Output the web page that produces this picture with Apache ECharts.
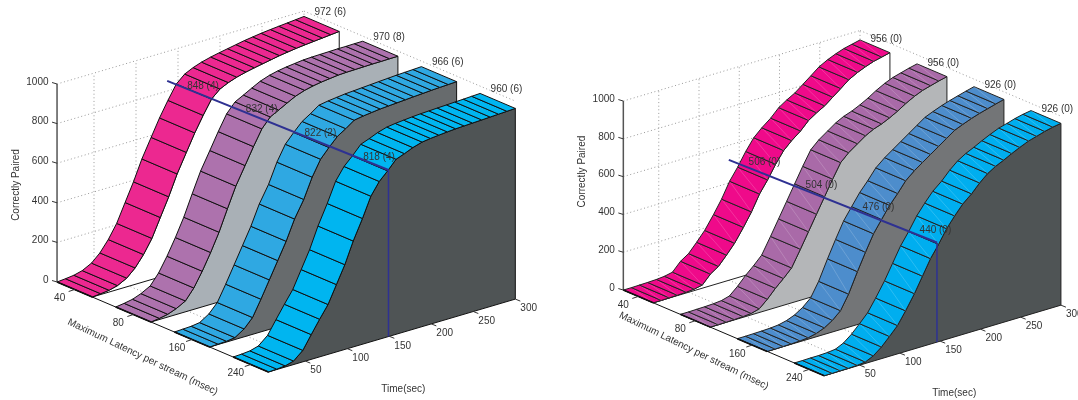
<!DOCTYPE html>
<html><head><meta charset="utf-8">
<style>html,body{margin:0;padding:0;background:#fff}#c{width:1078px;height:400px}</style>
<script src="https://cdn.jsdelivr.net/npm/echarts@6/dist/echarts.min.js"></script>
</head><body><div id="c"></div>
<script>
const timeSteps=[6,16,26,36,47,57,67,77,87,97,107,118,128,138,148,158,168,178,189,199,209,219,229,239,249,260,270,280,290,300];
const latencyLabels=['40','80','160','240'];
const countTicks=[0,200,400,600,800,1000];
const timeTicks=[50,100,150,200,250,300];

const leftLat40=[0,4,9,20,44,83,138,207,300,392,495,590,676,752,822,860,880,895,907,916,924,932,940,946,952,957,961,965,969,973];
const leftLat80=[0,6,14,30,55,108,180,262,352,458,560,650,733,810,858,880,903,925,941,951,958,963,968,970,971,972,973,973,974,974];
const leftLat160=[0,2,4,10,40,85,165,250,335,420,520,605,705,783,830,873,900,930,938,943,948,951,954,957,960,963,966,968,970,972];
const leftLat240=[0,2,6,18,58,125,190,252,340,428,535,635,735,797,838,884,900,918,932,938,942,946,949,951,953,955,957,959,961,963];
const leftEndLabels=['972 (6)','970 (8)','966 (6)','960 (6)'];
const leftMidLabels=['848 (4)','832 (4)','822 (2)','818 (4)'];

const rightLat40=[0,0,1,2,4,8,17,62,90,137,187,257,326,408,470,540,600,640,677,720,748,772,805,838,872,897,915,930,940,950];
const rightLat80=[0,0,1,2,4,8,20,58,103,142,185,270,350,430,510,590,665,705,738,768,790,805,825,848,875,900,918,930,942,952];
const rightLat160=[0,0,1,2,4,8,18,35,62,100,175,280,370,455,518,580,630,685,725,755,785,815,845,875,893,911,925,937,949,960];
const rightLat240=[0,0,1,1,3,8,28,62,105,150,215,292,372,452,515,585,640,690,730,775,812,838,858,880,900,920,932,945,955,962];
const rightEndLabels=['956 (0)','956 (0)','926 (0)','926 (0)'];
const rightMidLabels=['506 (0)','504 (0)','476 (0)','440 (0)'];

const FONT='10px "Liberation Sans", Arial, sans-serif', TXT='#333';
const panels=[
 {grid:{left:52,top:85.5,width:252,height:198},shear:.248,depthX:58.7,depthY:25,band:.6,
  values:[leftLat40,leftLat80,leftLat160,leftLat240],endLabels:leftEndLabels,midLabels:leftMidLabels,
  ribbon:['#ec2890','#ad72ad','#2fa8e2','#00b5f0'],wall:['#ffffff','#a9b0b6','#676b6d','#4f5455'],
  mark:{t:149,d0:-.17,z0:815,d1:3.6,z1:841,labelD:.17,labelDy:-3},endOff:[10.5,-4],
  edge:'#111',facet:null,
  latOff:[-20,30],latRot:25.5,countOff:[-41,2],timeOff:[14,53]},
 {grid:{left:618.5,top:102.5,width:241.5,height:189},shear:.24,depthX:57,depthY:24.3,band:.525,
  values:[rightLat40,rightLat80,rightLat160,rightLat240],endLabels:rightEndLabels,midLabels:rightMidLabels,
  ribbon:['#ef0a8a','#a96aa8','#4d8dcc','#00aeef'],wall:['#ffffff','#b4b6b8','#737577','#4f5455'],
  mark:{t:146,d0:-.127,z0:495,d1:3.525,z1:527,labelD:.22,labelDy:-5.5},endOff:[10.5,-1],
  edge:'#222',facet:'rgba(255,255,255,.22)',
  latOff:[-30,18],latRot:26,countOff:[-41,-24],timeOff:[14,52]}
];
function proj(p,api,t,d,z){
  const kx=p.grid.width/300,kz=p.grid.height/1000;
  return api.coord([t+d*p.depthX/kx, z+(t*p.shear-d*p.depthY)/kz]);
}
function line(a,b,stroke,w,dash){return {type:'line',shape:{x1:a[0],y1:a[1],x2:b[0],y2:b[1]},style:{stroke,lineWidth:w,lineDash:dash||null,fill:null}};}
function text(s,x,y,align,rot){return {type:'text',x,y,rotation:rot?rot*Math.PI/180:0,style:{text:s,x:0,y:0,font:FONT,fill:TXT,align:align||'center',verticalAlign:'middle'}};}
const series=[];
panels.forEach((p,pi)=>{
  const base={type:'custom',xAxisIndex:pi,yAxisIndex:pi,silent:true,animation:false,clip:false,encode:{x:0,y:1}};
  const t0=timeSteps[0],tEnd=timeSteps[timeSteps.length-1],depthEnd=3+p.band;
  // back walls grid
  series.push({...base,z:1,data:[[0,0]],renderItem(par,api){
    const kids=[],dash=[1,2.6],col='#9a9a9a';
    countTicks.forEach(c=>{ if(c>0) kids.push(line(proj(p,api,t0,0,c),proj(p,api,tEnd,0,c),col,1,dash)); });
    timeTicks.forEach(t=>{ kids.push(line(proj(p,api,t,0,0),proj(p,api,t,0,1000),col,1,dash));
      if(t<tEnd) kids.push(line(proj(p,api,t,0,0),proj(p,api,t,depthEnd,0),col,1,dash)); });
    kids.push(line(proj(p,api,tEnd,0,1000),proj(p,api,tEnd,depthEnd,1000),col,1,dash));
    return {type:'group',children:kids};
  }});
  // ribbons & walls, back to front
  p.values.forEach((vals,i)=>{
    const rows=timeSteps.map((t,k)=>[t,vals[k]]);
    series.push({...base,z:2+i*2,data:[rows[0]],renderItem(par,api){
      const pts=rows.map(r=>proj(p,api,r[0],i+p.band,r[1]));
      pts.push(proj(p,api,tEnd,i+p.band,0),proj(p,api,t0,i+p.band,0));
      return {type:'polygon',shape:{points:pts},style:{fill:p.wall[i],stroke:p.edge,lineWidth:1}};
    }});
    series.push({...base,z:3+i*2,data:rows,renderItem(par,api){
      const k=par.dataIndex; if(k>=rows.length-1) return null;
      const a=rows[k],b=rows[k+1];
      const A=proj(p,api,a[0],i,a[1]),B=proj(p,api,b[0],i,b[1]),C=proj(p,api,b[0],i+p.band,b[1]),D=proj(p,api,a[0],i+p.band,a[1]);
      const kids=[{type:'polygon',shape:{points:[A,B,C,D]},style:{fill:p.ribbon[i],stroke:p.edge,lineWidth:1}}];
      if(p.facet) kids.push(line(B,D,p.facet,.8));
      return {type:'group',children:kids};
    }});
  });
  // axes, marker and labels
  series.push({...base,z:20,data:[[0,0]],renderItem(par,api){
    const kids=[],m=p.mark;
    kids.push(line(proj(p,api,t0,0,0),proj(p,api,t0,0,1000),'#555',1.5));
    kids.push(line(proj(p,api,t0,0,0),proj(p,api,t0,depthEnd,0),'#111',1));
    latencyLabels.forEach((l,i)=>kids.push(line(proj(p,api,t0,i,0),proj(p,api,t0,i+p.band,0),'#111',1.6)));
    countTicks.forEach(c=>{const q=proj(p,api,t0,0,c);
      kids.push(line(q,[q[0]-5,q[1]-1.5],'#333',1));
      kids.push(text(String(c),q[0]-8.5,q[1]-2,'right'));});
    latencyLabels.forEach((l,i)=>{const q=proj(p,api,t0,i+p.band/2,0);
      kids.push(line(q,[q[0]-6,q[1]+2],'#333',1));
      kids.push(text(l,q[0]-15,q[1]+9,'center'));});
    timeTicks.forEach(t=>{const q=proj(p,api,t,depthEnd,0);
      kids.push(line(q,[q[0]+5,q[1]+2],'#333',1));
      kids.push(text(String(t),q[0]+5,q[1]+9.5,'left'));});
    const pc=proj(p,api,t0,0,500);
    kids.push(text('Correctly Paired',pc[0]+p.countOff[0],pc[1]+p.countOff[1],'center',90));
    const pl=proj(p,api,t0,depthEnd/2,0);
    kids.push(text('Maximum Latency per stream (msec)',pl[0]+p.latOff[0],pl[1]+p.latOff[1],'center',-p.latRot));
    const pt=proj(p,api,150,depthEnd,0);
    kids.push(text('Time(sec)',pt[0]+p.timeOff[0],pt[1]+p.timeOff[1],'center'));
    const a=proj(p,api,m.t,m.d0,m.z0),b=proj(p,api,m.t,m.d1,m.z1),c=proj(p,api,m.t,m.d1,0);
    kids.push(line(a,b,'#2e3192',2));
    kids.push(line(b,c,'#2e3192',1.5));
    p.endLabels.forEach((s,i)=>{const q=proj(p,api,tEnd,i,p.values[i][p.values[i].length-1]);
      kids.push(text(s,q[0]+p.endOff[0],q[1]+p.endOff[1],'left'));});
    p.midLabels.forEach((s,i)=>{const d=i+m.labelD,z=m.z0+(m.z1-m.z0)*(d-m.d0)/(m.d1-m.d0);
      const q=proj(p,api,m.t,d,z);
      kids.push(text(s,q[0],q[1]+m.labelDy,'left'));});
    return {type:'group',children:kids};
  }});
});
const chart=echarts.init(document.getElementById('c'));
chart.setOption({animation:false,backgroundColor:'#fff',
  grid:panels.map(p=>p.grid),
  xAxis:panels.map((p,i)=>({type:'value',gridIndex:i,min:0,max:300,show:false})),
  yAxis:panels.map((p,i)=>({type:'value',gridIndex:i,min:0,max:1000,show:false})),
  series});
</script></body></html>
